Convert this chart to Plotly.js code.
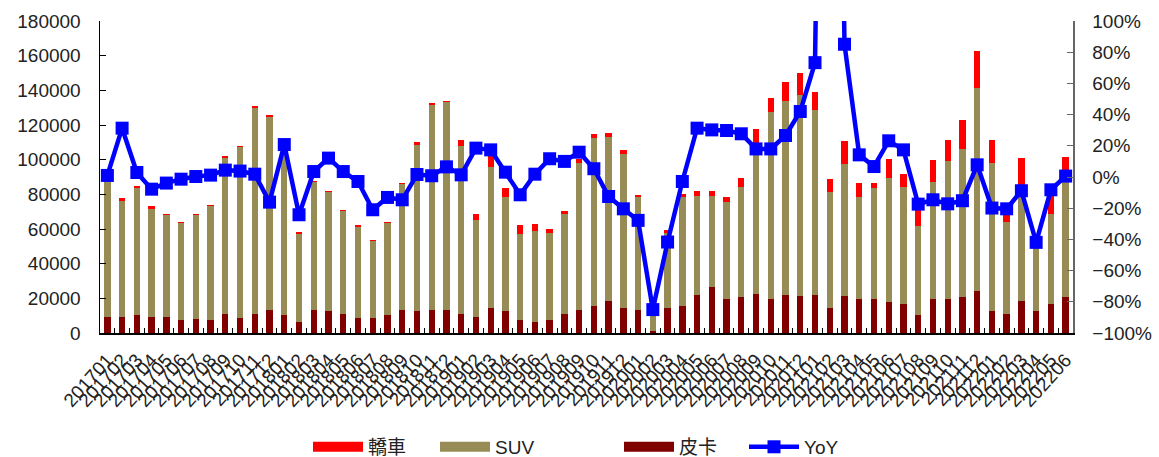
<!DOCTYPE html>
<html>
<head>
<meta charset="utf-8">
<script src="https://cdn.plot.ly/plotly-3.0.1.min.js"></script>
<style>html,body{margin:0;padding:0;background:#fff;}#chart{width:1159px;height:457px;}</style>
</head>
<body>
<div id="chart"></div>
<script>
const months = ["201701","201702","201703","201704","201705","201706","201707","201708","201709","201710","201711","201712",
"201801","201802","201803","201804","201805","201806","201807","201808","201809","201810","201811","201812",
"201901","201902","201903","201904","201905","201906","201907","201908","201909","201910","201911","201912",
"202001","202002","202003","202004","202005","202006","202007","202008","202009","202010","202011","202012",
"202101","202102","202103","202104","202105","202106","202107","202108","202109","202110","202111","202112",
"202201","202202","202203","202204","202205","202206"];

const sedan = [1000,1300,1150,1400,750,750,750,750,950,800,1550,1550,
1000,970,800,950,760,750,770,960,770,1550,800,780,
3640,3650,6200,5380,5180,3860,2300,1550,2400,2500,2530,2310,
1530,300,1900,2130,3060,3060,3080,5190,9500,8100,11150,12700,
10400,7500,13460,8270,3080,10960,7310,11900,12690,12500,16350,21550,
13270,6270,19200,500,11350,9430];

const suv = [78500,66950,73450,62300,58500,56160,59800,65800,90150,98450,118600,111100,
95800,50760,73700,68650,59200,52700,44430,53070,72470,96150,118400,119770,
96900,55600,81200,65770,49620,52500,50200,57650,84700,96900,94800,88860,
64970,8800,43100,62870,56940,52500,55580,63650,85300,107500,111750,116150,
106550,66550,76150,58470,63660,71720,67310,51720,67310,79240,85770,116920,
85770,53230,63540,37300,51730,71340];

const pickup = [9000,9400,10200,9400,9400,7300,8100,7300,11000,8650,11000,13300,
10200,6540,13300,12500,11000,8650,8650,10200,13300,12500,13300,13300,
11000,9400,14600,12500,7300,6540,7300,11000,13300,15400,18270,14600,
13300,1200,14600,15400,22100,26540,19800,20580,22700,19800,22100,21350,
22100,14600,21350,19800,19800,17700,16920,10200,19800,19800,20580,24230,
12500,11000,18460,12500,16920,20580];

const yoy = [1,31.3,2.9,-7.8,-3.9,-1.4,0.3,1.2,4.4,3.8,1.8,-16.1,
20.8,-24.2,3.5,12.1,3.5,-2.9,-21,-13.1,-14.6,1.6,0.8,6.5,
1.4,18.5,17.4,3.1,-11.4,1.8,11.7,10,15.9,5.3,-12.5,-20.4,
-27.8,-85,-41.7,-2.9,31.3,30.2,29.8,27.7,18,18,26.6,42,
73.3,700,85.1,14.2,6.7,23.2,17.4,-17.4,-14.6,-17.2,-15.2,7.8,
-19.9,-20.4,-8.8,-41.9,-8.2,0.6];

const C_SEDAN = "#FF0000", C_SUV = "#978C56", C_PICKUP = "#800000", C_YOY = "#0000FF";
const FONT = "Liberation Sans, Arial, 'Noto Sans CJK TC', sans-serif";

const traces = [
  {type:"bar", x:months, y:pickup, name:"皮卡", marker:{color:C_PICKUP}, showlegend:false, hoverinfo:"skip"},
  {type:"bar", x:months, y:suv, name:"SUV", marker:{color:C_SUV}, showlegend:false, hoverinfo:"skip"},
  {type:"bar", x:months, y:sedan, name:"轎車", marker:{color:C_SEDAN}, showlegend:false, hoverinfo:"skip"},
  {type:"scatter", mode:"lines+markers", x:months, y:yoy, yaxis:"y2", name:"YoY", showlegend:false,
   line:{color:C_YOY, width:4.5}, marker:{symbol:"square", size:13, color:C_YOY}},
  // legend entries (one legend box each, to match the reference spacing)
  {type:"scatter", mode:"lines", x:[months[0]], y:[null], name:"轎車", legend:"legend", line:{color:C_SEDAN, width:10}},
  {type:"scatter", mode:"lines", x:[months[0]], y:[null], name:"SUV", legend:"legend2", line:{color:C_SUV, width:10}},
  {type:"scatter", mode:"lines", x:[months[0]], y:[null], name:"皮卡", legend:"legend3", line:{color:C_PICKUP, width:10}},
  {type:"scatter", mode:"lines+markers", x:[months[0]], y:[null], yaxis:"y2", name:"YoY", legend:"legend4",
   line:{color:C_YOY, width:4.5}, marker:{symbol:"square", size:13, color:C_YOY}}
];

function leg(px){
  return {orientation:"h", xref:"container", yref:"container", x:px/1159, xanchor:"left", y:0.022, yanchor:"middle",
          font:{family:FONT, size:19, color:"#222"}, itemwidth:50, bgcolor:"rgba(0,0,0,0)", borderwidth:0};
}

const layout = {
  width:1159, height:457,
  margin:{l:100, r:86, t:21, b:124},
  paper_bgcolor:"#fff", plot_bgcolor:"#fff",
  font:{family:FONT, size:19, color:"#222"},
  barmode:"stack", bargap:0.57,
  showlegend:true,
  legend:leg(308), legend2:leg(435), legend3:leg(619), legend4:leg(744),
  xaxis:{type:"category", range:[-0.5, months.length-0.5], autorange:false,
         tickmode:"linear", tick0:0, dtick:1, tickangle:-48, automargin:false,
         showline:true, linecolor:"#000", linewidth:1.5, ticks:"inside", ticklen:5, tickcolor:"#000",
         tickson:"boundaries", showgrid:false, zeroline:false, ticklabelstandoff:7,
         tickfont:{family:FONT, size:19, color:"#222"}},
  yaxis:{range:[0,180000], dtick:20000, tickformat:"d", showline:true, linecolor:"#000", linewidth:1.5, automargin:false,
         ticks:"inside", ticklen:6, tickcolor:"#000", showgrid:false, zeroline:false, ticklabelstandoff:14,
         tickfont:{family:FONT, size:19, color:"#222"}},
  yaxis2:{overlaying:"y", side:"right", range:[-100,100], dtick:20, ticksuffix:"%", automargin:false,
          showline:true, linecolor:"#666", linewidth:1.5, ticks:"inside", ticklen:6, tickcolor:"#666",
          showgrid:false, zeroline:false, ticklabelstandoff:14,
          tickfont:{family:FONT, size:19, color:"#222"}}
};

Plotly.newPlot("chart", traces, layout, {displayModeBar:false, staticPlot:true});
</script>
</body>
</html>
